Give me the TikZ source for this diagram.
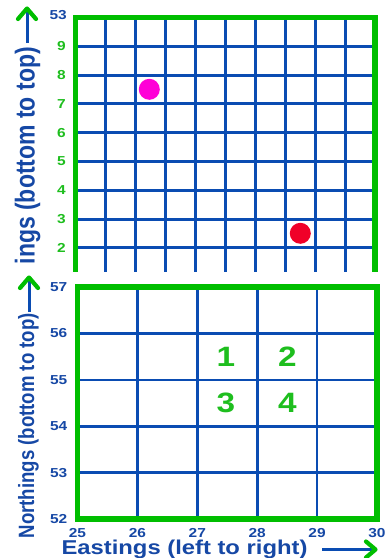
\documentclass[tikz,border=0pt]{standalone}
\usepackage{fontspec}
\setmainfont{Liberation Sans}
\definecolor{gridblue}{RGB}{10,76,178}
\definecolor{txtblue}{RGB}{22,72,165}
\definecolor{frgreen}{RGB}{0,190,0}
\definecolor{lblgreen}{RGB}{30,190,30}
\definecolor{dotmag}{RGB}{255,0,215}
\definecolor{dotred}{RGB}{240,0,40}
\tikzset{
  frame/.style={draw=frgreen, line width=5.5pt, line join=miter},
  glineA/.style={draw=gridblue, line width=3pt},
  glineB/.style={draw=gridblue, line width=2.6pt},
  ticklbl/.style={font=\fontsize{13}{13}\selectfont\bfseries, inner sep=0pt, xscale=1.19},
  bignum/.style={font=\fontsize{28}{28}\selectfont\bfseries, inner sep=0pt, xscale=1.19, text=lblgreen},
  axtitle/.style={text=txtblue, inner sep=0pt},
  shaft/.style={draw=gridblue, line width=3pt},
  chev/.style={draw=frgreen, line width=4.2pt, line join=round, line cap=round},
  dot/.style={circle, inner sep=0pt, minimum size=21pt}
}
\begin{document}
\begin{tikzpicture}[x=1pt,y=-1pt]
\useasboundingbox (0,0) rectangle (388,558);
\fill[white] (0,0) rectangle (388,558);

% ---------------- top panel (cropped) ----------------
\begin{scope}
\clip (0,0) rectangle (388,271);
\foreach \i in {1,...,9} \draw[glineA] (75.5+29.95*\i,17.5) -- (75.5+29.95*\i,290);
\foreach \j in {1,...,9} \draw[glineA] (75.5,17.5+28.8*\j) -- (375,17.5+28.8*\j);
\draw[frame] (75.5,290) -- (75.5,17.5) -- (375,17.5) -- (375,290);
\node[dot, fill=dotmag] (pdot) at (149.3,89.3) {};
\node[dot, fill=dotred] (rdot) at (300.3,233.3) {};
\node[ticklbl, text=txtblue, anchor=east] (t53) at (67,15) {53};
\foreach \n [count=\k] in {9,8,7,6,5,4,3,2}
  \node[ticklbl, text=lblgreen, anchor=east] (tl\n) at (66,17.5+28.8*\k) {\n};
\node[axtitle, rotate=90, yscale=1.19, anchor=east, font=\fontsize{23}{23}\selectfont\bfseries] (ttop) at (27.5,47) {ings (bottom to top)};
\end{scope}
\coordinate (a1s) at (27,43);
\coordinate (a1t) at (27,12);
\coordinate (a1l) at (18,19);
\coordinate (a1r) at (36,19);
\coordinate (a1h) at (27,8.5);
\draw[shaft] (a1s) -- (a1t);
\draw[chev] (a1l) -- (a1h) -- (a1r);

% ---------------- bottom panel ----------------
\foreach \i in {1,...,4} \draw[glineB] (77.5+59.9*\i,287) -- (77.5+59.9*\i,519);
\foreach \j in {1,...,4} \draw[glineB] (77.5,287+46.4*\j) -- (377,287+46.4*\j);
\draw[frame] (77.5,287) rectangle (377,519);
\foreach \n [count=\k from 0] in {57,56,55,54,53,52}
  \node[ticklbl, text=txtblue, anchor=east] (l\n) at (67.5,287+46.4*\k) {\n};
\foreach \n [count=\k from 0] in {25,26,27,28,29,30}
  \node[ticklbl, text=txtblue, anchor=base] (b\n) at (77.5+59.9*\k,537) {\n};
\node[bignum] (n1) at (226,357) {1};
\node[bignum] (n2) at (287.5,357) {2};
\node[bignum] (n3) at (226,403) {3};
\node[bignum] (n4) at (287.5,403) {4};
\node[axtitle, rotate=90, yscale=1.19, anchor=east, font=\fontsize{18.6}{18.6}\selectfont\bfseries] (tleft) at (28.5,313) {Northings (bottom to top)};
\node[axtitle, xscale=1.19, anchor=base, font=\fontsize{20}{20}\selectfont\bfseries] (tbot) at (184.5,554.5) {Eastings (left to right)};

\coordinate (a2s) at (29,312);
\coordinate (a2t) at (29,281);
\coordinate (a2l) at (20,288);
\coordinate (a2r) at (38,288);
\coordinate (a2h) at (29,277.5);
\draw[shaft] (a2s) -- (a2t);
\draw[chev] (a2l) -- (a2h) -- (a2r);

\coordinate (a3s) at (322,549.5);
\coordinate (a3t) at (372,549.5);
\coordinate (a3u) at (366,541.5);
\coordinate (a3d) at (366,557.5);
\coordinate (a3h) at (375.5,549.5);
\draw[shaft] (a3s) -- (a3t);
\draw[chev] (a3u) -- (a3h) -- (a3d);
\end{tikzpicture}
\end{document}
